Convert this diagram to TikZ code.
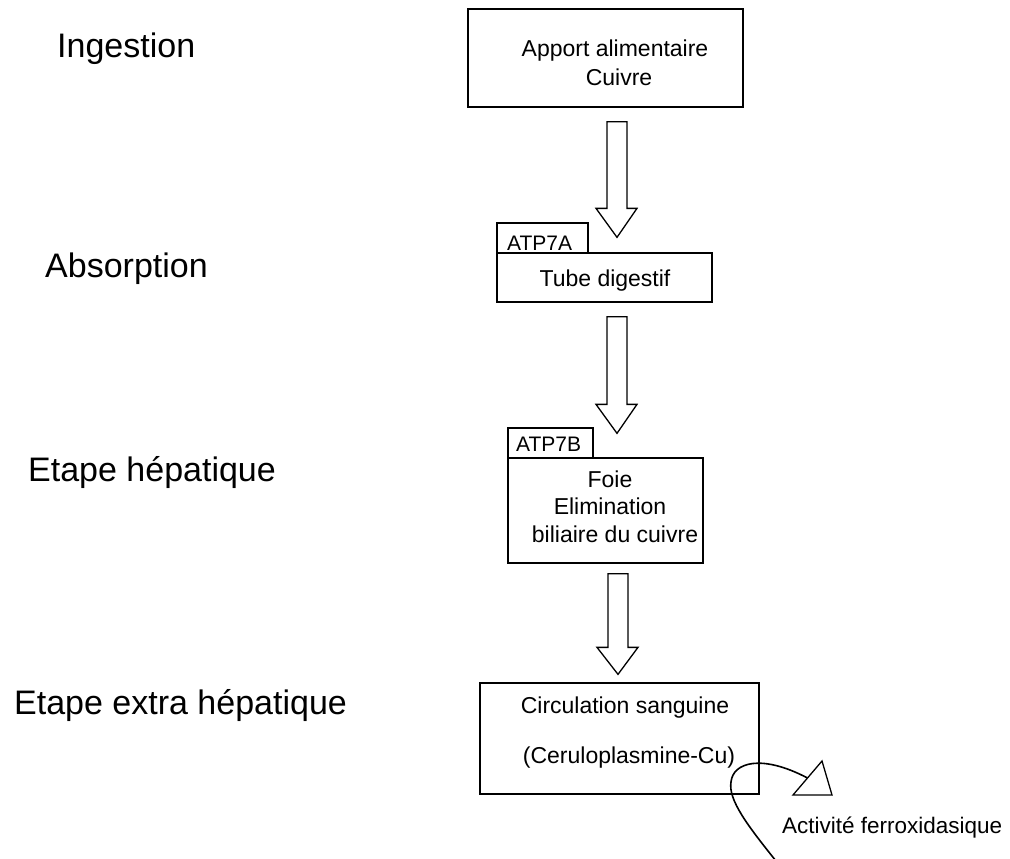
\documentclass[tikz,border=0pt]{standalone}
\usepackage{fontspec}
\setmainfont{Liberation Sans}
\usetikzlibrary{calc}
\tikzset{
  box/.style={draw=black, line width=1.3pt, rectangle, inner sep=0pt},
  lbl/.style={inner sep=0pt, font=\fontsize{34}{40}\selectfont, anchor=base west},
  btxt/.style={inner sep=0pt, font=\fontsize{23}{28}\selectfont, anchor=base},
  ttxt/.style={inner sep=0pt, font=\fontsize{21}{25}\selectfont, anchor=base west},
  arrowline/.style={draw=black, line width=1.3pt, line join=miter, fill=white},
  curveline/.style={draw=black, line width=1.6pt}
}
\newcommand{\blockarr}[3]{% #1 start, #2 tip, #3 head length
  \draw[arrowline] let \p1=(#1), \p2=(#2) in
    (\x1-10pt,\y1) -- (\x1+10pt,\y1) -- (\x1+10pt,\y2+#3) -- (\x1+20pt,\y2+#3)
    -- (\x2,\y2) -- (\x1-21pt,\y2+#3) -- (\x1-10pt,\y2+#3) -- cycle;}
\begin{document}
\begin{tikzpicture}[x=1pt,y=-1pt]
\useasboundingbox (0,0) rectangle (1010,859);

% stage labels
\node[lbl] (ing) at (57,58) {Ingestion};
\node[lbl] (abs) at (45,277) {Absorption};
\node[lbl] (hep) at (28,481) {Etape hépatique};
\node[lbl] (exh) at (14,714) {Etape extra hépatique};

% boxes
\node[box, minimum width=275pt, minimum height=98pt] (apport) at (605.5,58) {};
\node[box, minimum width=91pt, minimum height=30pt] (tabA) at (542.5,238) {};
\node[box, minimum width=215pt, minimum height=49pt] (tube) at (604.5,277.5) {};
\node[box, minimum width=85pt, minimum height=30pt] (tabB) at (550.5,443) {};
\node[box, minimum width=195pt, minimum height=105pt] (foie) at (605.5,510.5) {};
\node[box, minimum width=279pt, minimum height=111pt] (circ) at (619.5,738.5) {};

% box texts
\node[btxt] (t1) at (615,57) {Apport alimentaire};
\node[btxt] (t2) at (619,85) {Cuivre};
\node[ttxt] (ta) at (507,250) {ATP7A};
\node[btxt] (t3) at (605,286) {Tube digestif};
\node[ttxt] (tb) at (516,451) {ATP7B};
\node[btxt] (t4) at (610,487) {Foie};
\node[btxt] (t5) at (610,514) {Elimination};
\node[btxt] (t6) at (615,542) {biliaire du cuivre};
\node[btxt] (t7) at (625,713) {Circulation sanguine};
\node[btxt] (t8) at (629,763) {(Ceruloplasmine-Cu)};
\node[inner sep=0pt, font=\fontsize{22.5}{27}\selectfont, anchor=base west] (act) at (782,833) {Activité ferroxidasique};

% block arrows
\coordinate (a1s) at ($(apport.south)+(11.5,14)$);
\coordinate (a1t) at ($(tube.north)+(12.5,-15)$);
\blockarr{a1s}{a1t}{29pt}
\coordinate (a2s) at ($(tube.south)+(12.5,14)$);
\coordinate (a2t) at ($(foie.north)+(11.5,-24)$);
\blockarr{a2s}{a2t}{29pt}
\coordinate (a3s) at ($(foie.south)+(12.5,10)$);
\coordinate (a3t) at ($(circ.north)+(-1.5,-8)$);
\blockarr{a3s}{a3t}{27pt}

% curved arrow
\coordinate (cstart) at (776,861);
\coordinate (cmid) at (731,782);
\coordinate (cend) at (807.5,778);
\draw[curveline] (cstart) .. controls (748,826) and (728,800) .. (cmid)
  .. controls (733,762) and (762,754) .. (cend);
\draw[arrowline, line width=1.3pt] (793,795) -- (822,761) -- (832,795) -- cycle;
\end{tikzpicture}
\end{document}
